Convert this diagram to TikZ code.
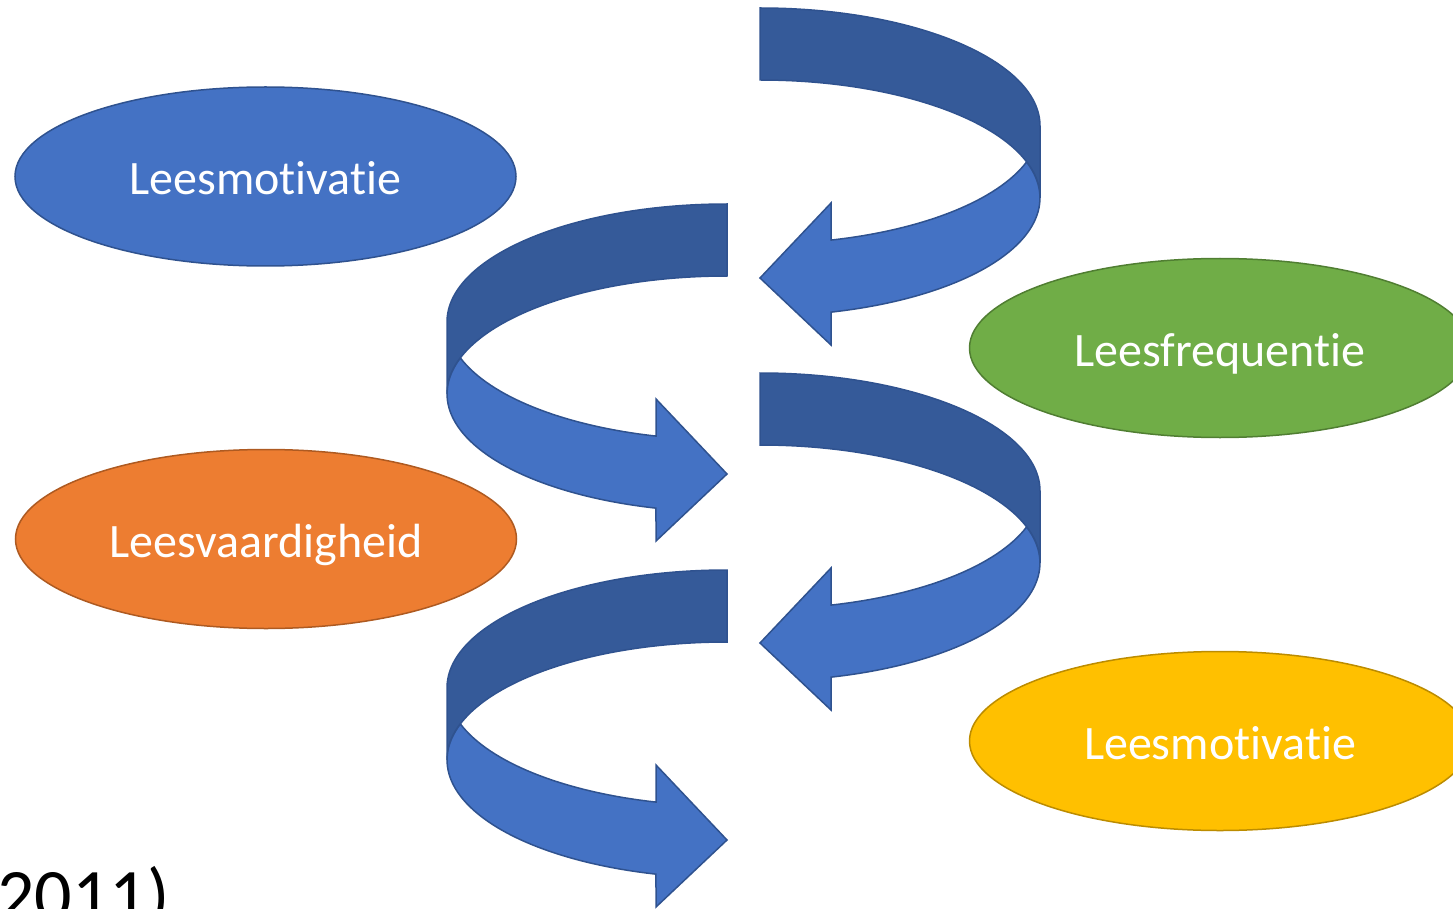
\documentclass[tikz,border=0pt]{standalone}
\usepackage{fontspec}
\setmainfont[Ligatures=NoCommon]{Carlito}
\usepackage{xcolor}
\usetikzlibrary{shapes.geometric}

\definecolor{lichtblauw}{HTML}{4472C4}
\definecolor{donkerblauw}{HTML}{355A99}
\definecolor{randblauw}{HTML}{2F528F}
\definecolor{groen}{HTML}{70AD47}
\definecolor{randgroen}{HTML}{507E32}
\definecolor{oranje}{HTML}{ED7D31}
\definecolor{randoranje}{HTML}{AE5A21}
\definecolor{goud}{HTML}{FFC000}
\definecolor{randgoud}{HTML}{BC8C00}

\begin{document}
\begin{tikzpicture}[x=1pt, y=1pt,
		bubble/.style={
			ellipse,
			draw,
			line width=1.5pt,
			minimum width=501pt,
			minimum height=179pt,
			inner sep=0pt,
			text=white,
			text height=45pt,
			text depth=8pt,
			font=\fontsize{48}{58}\selectfont
		},
		curl/.pic={
			% donkere band boven
			\filldraw[fill=donkerblauw, draw=randblauw, line width=1.5pt]
				(0,0) arc[start angle=90, end angle=0, x radius=280, y radius=118]
				-- (280,-190) arc[start angle=0, end angle=90, x radius=280, y radius=118] -- cycle;
			% lichte band met punt
			\filldraw[fill=lichtblauw, draw=randblauw, line width=1.5pt]
				(266.6,-154) arc[start angle=17.77, end angle=-75.3, x radius=280, y radius=118]
				-- (71,-337) -- (0,-270) -- (71,-195) -- (71,-232.1)
				arc[start angle=-75.3, end angle=-17.77, x radius=280, y radius=118] -- cycle;
		}]
		\clip (0,0) rectangle (1453,-909);
		\useasboundingbox (0,0) rectangle (1453,-909);
		
		\node[bubble, fill=lichtblauw, draw=randblauw] (motivatie) at (265.5,-176.5) {Leesmotivatie};
		\node[bubble, fill=groen, draw=randgroen] (frequentie) at (1220,-348) {Leesfrequentie};
		\node[bubble, fill=oranje, draw=randoranje] (vaardigheid) at (266,-539) {Leesvaardigheid};
		\node[bubble, fill=goud, draw=randgoud] (motivatie2) at (1220,-741) {Leesmotivatie};
		
		\pic (pijlA) at (760,-8) {curl};
		\pic[xscale=-1] (pijlB) at (727,-204) {curl};
		\pic (pijlC) at (760,-373) {curl};
		\pic[xscale=-1] (pijlD) at (727,-570) {curl};
		
		\node[anchor=base west, inner sep=0pt, font=\fontsize{74}{88}\selectfont] (jaartal) at (-3,-920) {2011)};
	\end{tikzpicture}
\end{document}
